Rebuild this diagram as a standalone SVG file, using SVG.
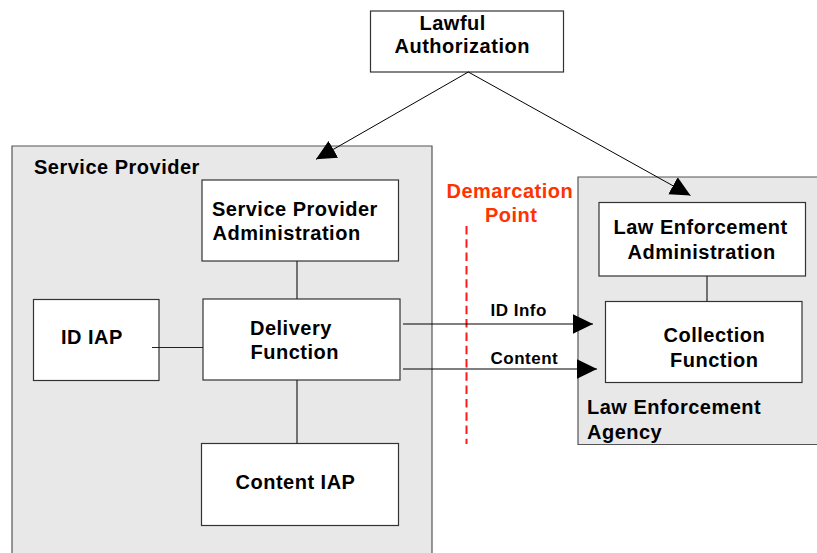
<svg xmlns="http://www.w3.org/2000/svg" width="817" height="553" viewBox="0 0 817 553">
  <style>
    .zone { fill: #e8e8e8; stroke: #555555; stroke-width: 1.2; }
    .box { fill: #ffffff; stroke: #333333; stroke-width: 1.2; }
    .link { stroke: #222222; stroke-width: 1.2; fill: none; }
    .flow { stroke: #000000; stroke-width: 1; fill: none; marker-end: url(#head); }
    text { font-family: "Liberation Sans", Arial, Helvetica, sans-serif; font-weight: bold; font-size: 20px; letter-spacing: 0.5px; fill: #000000; }
    .small { font-size: 17px; letter-spacing: 0.5px; }
    .demarc { fill: #ff3300; }
    .divider { stroke: #ff1a1a; stroke-width: 2; stroke-dasharray: 8.5 4.8; fill: none; }
  </style>
  <defs>
    <marker id="head" viewBox="0 0 20 20" refX="20" refY="10" markerWidth="20" markerHeight="20" markerUnits="userSpaceOnUse" orient="auto">
      <path d="M0,0.3 L20,10 L0,19.7 Z" fill="#000000"/>
    </marker>
  </defs>

  <!-- Service Provider domain -->
  <g id="service-provider">
    <path class="zone" d="M12,560 L12,146 L432,146 L432,560"/>
    <text x="34" y="174">Service Provider</text>
  </g>

  <!-- Law Enforcement Agency domain -->
  <g id="law-enforcement-agency">
    <path class="zone" d="M830,177 L578,177 L578,444.5 L830,444.5"/>
    <text x="587" y="414">Law Enforcement</text>
    <text x="587" y="438.5">Agency</text>
  </g>

  <!-- Demarcation point -->
  <g id="demarcation-point">
    <line class="divider" x1="466.5" y1="226" x2="466.5" y2="444"/>
    <text class="demarc" x="446.5" y="197.5">Demarcation</text>
    <text class="demarc" x="485" y="221.5">Point</text>
  </g>

  <g id="lawful-authorization">
    <rect class="box" x="370.5" y="11" width="193" height="61"/>
    <text x="419.5" y="30">Lawful</text>
    <text x="394.5" y="53.3">Authorization</text>
  </g>

  <g id="sp-administration">
    <rect class="box" x="202" y="180" width="196.5" height="81"/>
    <text x="212" y="216">Service Provider</text>
    <text x="212.5" y="239.5">Administration</text>
  </g>

  <g id="delivery-function">
    <rect class="box" x="203" y="299" width="197" height="81"/>
    <text x="250" y="335">Delivery</text>
    <text x="250.5" y="358.5">Function</text>
  </g>

  <g id="id-iap">
    <rect class="box" x="33.5" y="299.5" width="125.5" height="81"/>
    <text x="61" y="344">ID IAP</text>
  </g>

  <g id="content-iap">
    <rect class="box" x="201.5" y="443.5" width="197" height="82"/>
    <text x="235.5" y="489">Content IAP</text>
  </g>

  <g id="le-administration">
    <rect class="box" x="599" y="202.5" width="206.5" height="73.5"/>
    <text x="613.5" y="233.5">Law Enforcement</text>
    <text x="627.5" y="258.5">Administration</text>
  </g>

  <g id="collection-function">
    <rect class="box" x="605.5" y="301.5" width="196.5" height="81"/>
    <text x="663.5" y="341.5">Collection</text>
    <text x="670" y="366.5">Function</text>
  </g>

  <!-- Connectors -->
  <g id="connectors">
    <line class="link" x1="297" y1="261" x2="297" y2="299"/>
    <line class="link" x1="297" y1="380" x2="297" y2="443.5"/>
    <line class="link" x1="152" y1="347.5" x2="203" y2="347.5"/>
    <line class="link" x1="707" y1="276" x2="707" y2="301.5"/>
    <line class="flow" x1="468.3" y1="72" x2="316" y2="159.3"/>
    <line class="flow" x1="468.3" y1="72" x2="690.5" y2="195.5"/>
    <line class="flow" x1="403" y1="324" x2="593" y2="324"/>
    <line class="flow" x1="403" y1="369" x2="597" y2="369"/>
    <text class="small" x="490.5" y="315.5">ID Info</text>
    <text class="small" x="490.5" y="363.5">Content</text>
  </g>
</svg>
